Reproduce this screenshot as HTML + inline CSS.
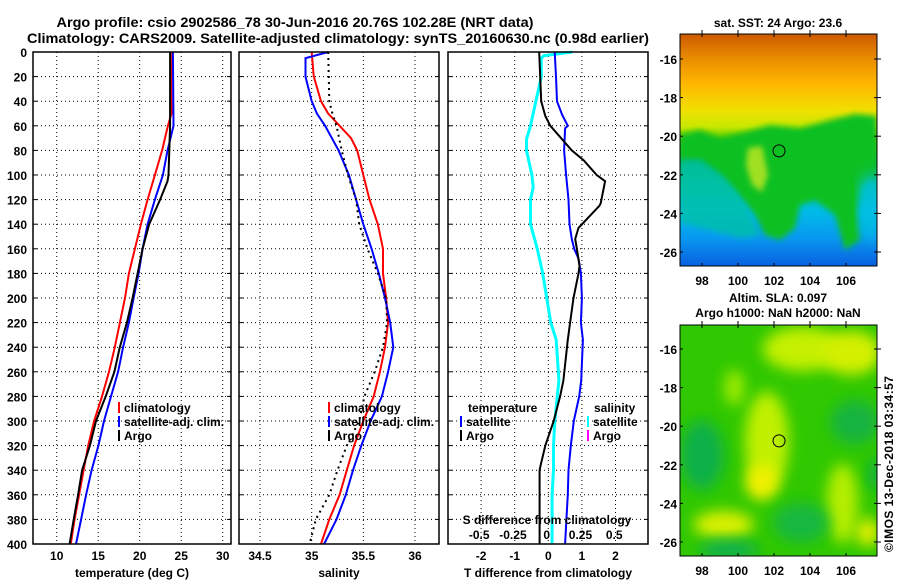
<!DOCTYPE html>
<html><head><meta charset="utf-8"><style>
body{margin:0;background:#fff}
svg text{font-family:"Liberation Sans",Arial,sans-serif;font-weight:bold;fill:#000}
</style></head><body>
<svg id="c" width="900" height="580" xmlns="http://www.w3.org/2000/svg">
<defs>
<linearGradient id="sstg" x1="0" y1="0" x2="0" y2="1">
<stop offset="0" stop-color="#cc5a00"/><stop offset="0.1" stop-color="#e88a00"/>
<stop offset="0.22" stop-color="#ffb800"/><stop offset="0.33" stop-color="#f0e000"/>
<stop offset="0.40" stop-color="#c8e800"/><stop offset="0.46" stop-color="#40c800"/>
<stop offset="0.55" stop-color="#00b850"/><stop offset="0.66" stop-color="#00c0a0"/>
<stop offset="0.76" stop-color="#00bce8"/><stop offset="0.88" stop-color="#0898f0"/>
<stop offset="1" stop-color="#0860e0"/></linearGradient>
<filter id="bl" x="-50%" y="-50%" width="200%" height="200%"><feGaussianBlur stdDeviation="7"/></filter>
<filter id="bl2" x="-50%" y="-50%" width="200%" height="200%"><feGaussianBlur stdDeviation="3"/></filter>
<clipPath id="m1c"><rect x="680" y="34" width="197" height="232"/></clipPath>
<clipPath id="m2c"><rect x="680" y="325" width="197" height="231"/></clipPath>
</defs>
<text x="295" y="27" font-size="14" text-anchor="middle" textLength="477" lengthAdjust="spacingAndGlyphs">Argo profile: csio 2902586_78 30-Jun-2016 20.76S 102.28E (NRT data)</text>
<text x="338" y="43" font-size="14" text-anchor="middle" textLength="622" lengthAdjust="spacingAndGlyphs">Climatology: CARS2009. Satellite-adjusted climatology: synTS_20160630.nc (0.98d earlier)</text>
<g id="g"></g>
</svg>
<script>
const depths=[0,20,40,60,80,100,120,140,160,180,200,220,240,260,280,300,320,340,360,380,400];
const yTicks=[0,20,40,60,80,100,120,140,160,180,200,220,240,260,280,300,320,340,360,380,400];
const tTicks=[10,15,20,25,30];
const sTicks=[34.5,35,35.5,36];
const dtTicks=[-2,-1,0,1,2];
const dsTicks=[-0.5,-0.25,0,0.25,0.5];
const dsTickLabels=["-0.5","-0.25","0","0.25","0.5"];
// temperature
const tClimD=[0,50,60,80,100,120,140,160,180,200,220,240,260,280,300,320,340,360,380,400];
const tClim=[23.75,23.83,23.4,22.7,21.83,20.95,20.14,19.42,18.7,18.23,17.62,17.0,16.3,15.46,14.5,13.8,13.24,12.7,12.16,11.7];
const tSatD=[0,60,80,100,120,140,160,180,200,220,240,260,280,300,320,340,360,380,400];
const tSat=[24.0,24.07,23.35,22.8,21.83,20.95,20.35,19.87,19.27,18.7,18.0,17.4,16.54,15.7,15.03,14.2,13.54,12.94,12.32];
const tArgoD=[0,60,100,105,120,140,160,180,200,220,240,260,280,300,320,340,360,380,400];
const tArgo=[23.66,23.66,23.47,23.35,22.46,21.14,20.35,19.75,19.15,18.46,17.6,16.95,15.9,14.74,14.0,13.06,12.58,12.05,11.55];
// salinity
const sClimD=[0,10,20,40,50,60,70,80,100,120,140,160,180,200,220,240,260,280,300,320,340,360,380,400];
const sClim=[35.0,35.01,35.02,35.09,35.16,35.27,35.38,35.44,35.50,35.56,35.64,35.69,35.69,35.72,35.74,35.71,35.66,35.60,35.50,35.41,35.34,35.27,35.17,35.09];
const sSatD=[0,5,20,40,50,60,80,100,120,140,160,180,200,220,240,260,280,300,320,340,360,380,400];
const sSat=[35.16,34.94,34.94,35.0,35.05,35.13,35.26,35.36,35.43,35.50,35.58,35.65,35.71,35.76,35.79,35.74,35.68,35.57,35.48,35.40,35.33,35.24,35.12];
const sArgoD=[0,40,50,60,80,100,120,140,160,180,200,220,240,260,280,300,320,340,360,380,400];
const sArgo=[35.16,35.17,35.2,35.24,35.29,35.35,35.43,35.46,35.54,35.64,35.72,35.73,35.69,35.61,35.51,35.46,35.34,35.25,35.17,35.04,34.98];
// differences
const dtArgoD=[0,20,40,52,60,80,88,100,105,123,125,143,152,160,174,180,200,220,234,267,280,300,320,335,340,360,380,400];
const dtArgo=[-0.27,-0.24,-0.21,-0.09,0.06,0.70,1.05,1.44,1.69,1.56,1.52,0.9,0.8,0.85,0.93,0.9,0.75,0.65,0.58,0.45,0.35,0.16,-0.09,-0.22,-0.26,-0.26,-0.26,-0.26];
const dtSatD=[0,20,40,51,60,62,80,100,120,140,152,160,168,180,200,220,234,267,280,300,320,340,360,380,400];
const dtSat=[0.19,0.23,0.26,0.41,0.58,0.5,0.47,0.53,0.6,0.63,0.7,0.77,0.9,0.97,1.0,0.97,1.03,0.98,0.92,0.76,0.67,0.6,0.58,0.54,0.5];
const dsSatD=[0,3,5,20,40,60,71,80,100,110,120,140,160,180,200,220,234,267,300,320,340,360,380,400];
const dsSat=[0.19,-0.02,-0.04,-0.04,-0.08,-0.12,-0.15,-0.15,-0.11,-0.10,-0.12,-0.12,-0.07,-0.03,0.0,0.03,0.07,0.09,0.06,0.05,0.05,0.04,0.04,0.04];
const mapLon=[98,100,102,104,106];
const mapLat=[-16,-18,-20,-22,-24,-26];
const argoLon=102.28, argoLat=-20.76;

const NS="http://www.w3.org/2000/svg";
const G=document.getElementById('g');
function el(t,a,p){const e=document.createElementNS(NS,t);for(const k in a)e.setAttribute(k,a[k]);(p||G).appendChild(e);return e;}
function txt(x,y,s,sz,anc,p){const e=el('text',{x:x,y:y,'font-size':sz,'text-anchor':anc||'middle'},p);e.textContent=s;return e;}
const Y0=52,Y1=544;
const yD=d=>Y0+(d/400)*(Y1-Y0);
const xT=t=>56.7+(t-10)*8.3;
const xS=s=>311.7+(s-35)*103.3;
const xDT=v=>548.3+v*33.6;
const xDS=v=>546.7+v*135;
const panels=[{x0:33,x1:231,xs:xT,ticks:tTicks,lab:t=>String(t),title:'temperature (deg C)',name:'temperature'},
 {x0:239,x1:439,xs:xS,ticks:sTicks,lab:t=>String(t),title:'salinity',name:'salinity'},
 {x0:448,x1:648,xs:xDT,ticks:dtTicks,lab:t=>String(t),title:'T difference from climatology',name:'difference'}];
panels.forEach((p,i)=>{
 const g=el('g',{});
 
 
 el('rect',{x:p.x0,y:Y0,width:p.x1-p.x0,height:Y1-Y0,fill:'#fff',stroke:'none'},g);
 yTicks.forEach(d=>{ if(d>0&&d<400) el('line',{x1:p.x0,x2:p.x1,y1:yD(d),y2:yD(d),stroke:'#000','stroke-width':1,'stroke-dasharray':'1,3'},g);
   el('line',{x1:p.x0,x2:p.x0+4,y1:yD(d),y2:yD(d),stroke:'#000'},g);
   el('line',{x1:p.x1,x2:p.x1-4,y1:yD(d),y2:yD(d),stroke:'#000'},g);});
 p.ticks.forEach(t=>{const x=p.xs(t);
   el('line',{x1:x,x2:x,y1:Y0,y2:Y1,stroke:'#000','stroke-dasharray':'1,3'},g);
   const tl=txt(x,560,p.lab(t),12,'middle',g);
   
   });
 const at=txt((p.x0+p.x1)/2,577,p.title,12,'middle',g);
 
 
});
yTicks.forEach(d=>{const t=txt(27,yD(d)+5,String(d),12,'end');
 
 });
function line(D,V,xs,col,w,dash,name){
 let dd='';D.forEach((d,i)=>{dd+=(i?'L':'M')+xs(V[i]).toFixed(1)+','+yD(d).toFixed(1);});
 const e=el('path',{d:dd,fill:'none',stroke:col,'stroke-width':w});
 if(dash)e.setAttribute('stroke-dasharray',dash);
 
 
}
line(tClimD,tClim,xT,'#f00',2,null,'temp-climatology-line');
line(tSatD,tSat,xT,'#00f',2,null,'temp-satellite-line');
line(tArgoD,tArgo,xT,'#000',2,null,'temp-argo-line');
line(sClimD,sClim,xS,'#f00',2,null,'sal-climatology-line');
line(sSatD,sSat,xS,'#00f',2,null,'sal-satellite-line');
line(sArgoD,sArgo,xS,'#000',2,'2,4','sal-argo-line');
line(dsSatD,dsSat,xDS,'#0ff',3,null,'sdiff-satellite-line');
line(dtSatD,dtSat,xDT,'#00f',2,null,'tdiff-satellite-line');
line(dtArgoD,dtArgo,xDT,'#000',2,null,'tdiff-argo-line');
panels.forEach(p=>el('rect',{x:p.x0,y:Y0,width:p.x1-p.x0,height:Y1-Y0,fill:'none',stroke:'#000','stroke-width':1.5}));
function legend(x,y,col,label){
 const g=el('g',{});
 
 
 el('line',{x1:x,x2:x,y1:y-10,y2:y+1,stroke:col,'stroke-width':2},g);
 txt(x+5,y,label,12,'start',g);
}
legend(119,412,'#f00','climatology');legend(119,426,'#00f','satellite-adj. clim.');legend(119,440,'#000','Argo');
legend(329,412,'#f00','climatology');legend(329,426,'#00f','satellite-adj. clim.');legend(329,440,'#000','Argo');
txt(468,412,'temperature',12,'start');legend(461,426,'#00f','satellite');legend(461,440,'#000','Argo');
txt(594,412,'salinity',12,'start');legend(588,426,'#0ff','satellite');legend(588,440,'#f0f','Argo');
txt(547,524,'S difference from climatology',12,'middle');
dsTicks.forEach((t,i)=>{txt(xDS(t),539,dsTickLabels[i],12,'middle');});
// maps
const lx=l=>702+(l-98)*18;
function map(top,clip,name){
 const ly=l=>top+(-16-l)*19.3;
 const g=el('g',{'clip-path':'url(#'+clip+')'});
 
 
 return {g,ly};
}
function axes(top,bot,ly){
 mapLon.forEach(l=>{el('line',{x1:lx(l),x2:lx(l),y1:top,y2:top+3,stroke:'#000'});el('line',{x1:lx(l),x2:lx(l),y1:top-4,y2:top,stroke:'#000'});el('line',{x1:lx(l),x2:lx(l),y1:bot-3,y2:bot,stroke:'#000'});txt(lx(l),bot+19,String(l),12,'middle');});
 mapLat.forEach(l=>{el('line',{x1:874,x2:881,y1:ly(l),y2:ly(l),stroke:'#000'});el('line',{x1:680,x2:683,y1:ly(l),y2:ly(l),stroke:'#000'});txt(677,ly(l)+5,String(l),12,'end');});
}
// SST map
let m=map(59,'m1c','sst-map');
el('rect',{x:680,y:34,width:197,height:232,fill:'url(#sstg)'},m.g);
el('path',{d:'M680,135 L700,130 L720,138 L745,132 L770,125 L800,128 L830,120 L855,114 L877,116 L877,178 L862,185 L858,210 L860,240 L845,250 L835,215 L815,200 L800,205 L795,228 L780,240 L765,235 L755,215 L735,190 L715,170 L700,158 L680,160 Z',fill:'#10c020',filter:'url(#bl2)'},m.g);
el('path',{d:'M748,148 L762,146 L768,175 L762,192 L752,185 L746,165 Z',fill:'#a0e020',filter:'url(#bl2)'},m.g);
el('path',{d:'M680,160 L700,160 L725,178 L745,205 L760,235 L740,238 L680,222 Z',fill:'#00c0a8',filter:'url(#bl2)',opacity:0.8},m.g);
el('path',{d:'M862,180 L877,172 L877,242 L862,230 Z',fill:'#00c0e0',filter:'url(#bl)'},m.g);
el('rect',{x:680,y:34,width:197,height:232,fill:'none',stroke:'#000'});
el('circle',{cx:lx(argoLon),cy:m.ly(argoLat),r:6,fill:'none',stroke:'#000'});
txt(778,27,'sat. SST: 24 Argo: 23.6',12,'middle');
axes(34,266,m.ly);
// SLA map
let m2=map(349,'m2c','sla-map');
el('rect',{x:680,y:325,width:197,height:231,fill:'#30c800'},m2.g);
const blobs=[[103.6,-16,40,22,'#c4f000'],[106.3,-16.2,30,22,'#d4f000'],[101.6,-20.8,22,50,'#c0f000'],[101.3,-22.9,16,18,'#f0f000'],[99.2,-25.1,30,14,'#d8f000'],[105.8,-24,16,40,'#b4ee00'],[107.2,-25.5,12,14,'#e4f000'],[99.8,-18,10,18,'#a0ec00'],[98,-21.5,22,35,'#10b048'],[106.5,-19.8,25,22,'#18b440'],[103.5,-25,28,20,'#18b840'],[107.7,-22.5,8,16,'#10b048'],[99.5,-26.4,30,10,'#10b050']];
blobs.forEach(b=>el('ellipse',{cx:lx(b[0]),cy:m2.ly(b[1]),rx:b[2],ry:b[3],fill:b[4],filter:'url(#bl)'},m2.g));
el('rect',{x:680,y:325,width:197,height:231,fill:'none',stroke:'#000'});
el('circle',{cx:lx(argoLon),cy:m2.ly(argoLat),r:6,fill:'none',stroke:'#000'});
txt(778,302,'Altim. SLA: 0.097',12,'middle');
txt(778,317,'Argo h1000: NaN h2000: NaN',12,'middle');
axes(325,556,m2.ly);
const cp=txt(0,0,'©IMOS 13-Dec-2018 03:34:57',12,'middle');
cp.setAttribute('transform','translate(893,464) rotate(-90)');
cp.setAttribute('font-weight','normal');
cp.setAttribute('textLength','176');


</script>
</body></html>
